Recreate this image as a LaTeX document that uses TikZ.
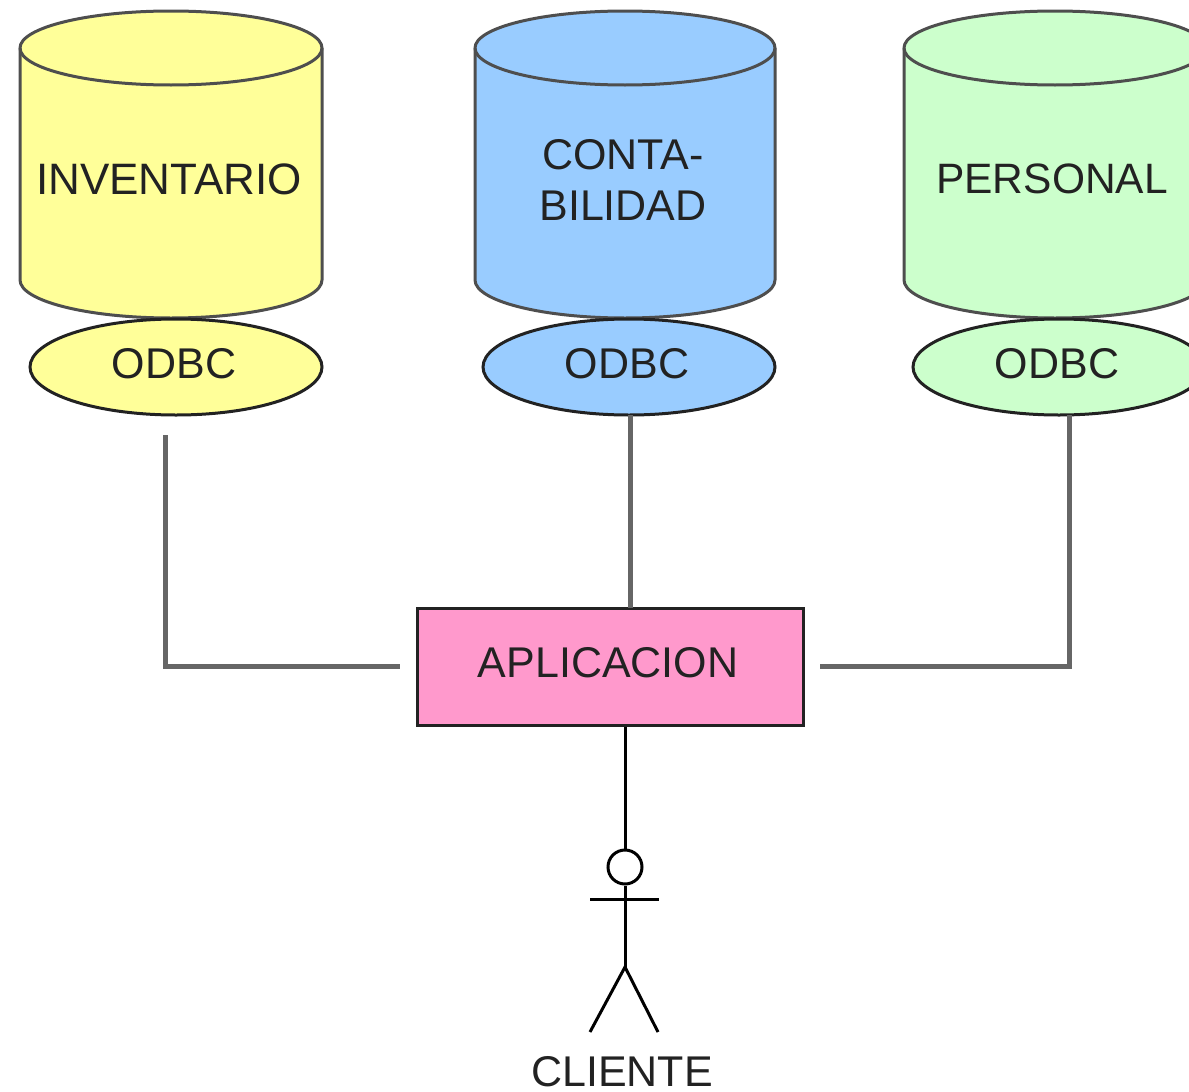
\documentclass[tikz,border=0pt]{standalone}
\usepackage{fontspec}
\setmainfont{Liberation Sans}
\usetikzlibrary{shapes.geometric}
\definecolor{yel}{HTML}{FFFF99}
\definecolor{blu}{HTML}{99CCFF}
\definecolor{grn}{HTML}{CCFFCC}
\definecolor{pnk}{HTML}{FF99CC}
\definecolor{wire}{HTML}{666666}
\definecolor{ink}{HTML}{222222}
\tikzset{
  cyl/.style={draw=ink!80!white,line width=3pt},
  lbl/.style={text=ink,font=\fontsize{43}{51}\selectfont,align=center,inner sep=0pt},
  small/.style={text=ink,font=\fontsize{43}{48}\selectfont,inner sep=0pt},
  odbc/.style={ellipse,draw=ink,line width=3pt,minimum width=292pt,minimum height=96pt,inner sep=0pt},
  wireline/.style={draw=wire,line width=5pt},
  person/.style={draw=black,line width=3pt},
}
\newcommand{\dbcyl}[3]{%
  \path[cyl,fill=#3] (#1,48) arc[x radius=#2,y radius=37,start angle=180,end angle=360]
     -- ({#1+2*#2},280) arc[x radius=#2,y radius=38,start angle=0,end angle=180] -- cycle;
  \path[cyl] (#1,48) arc[x radius=#2,y radius=37,start angle=180,end angle=0];
}
\begin{document}
\begin{tikzpicture}[x=1pt,y=-1pt]
\useasboundingbox (0,0) rectangle (1189,1092);
\clip (0,0) rectangle (1189,1092);
\dbcyl{20}{151}{yel}
\dbcyl{475}{150}{blu}
\dbcyl{904}{151}{grn}
\node[lbl,font=\fontsize{44}{51}\selectfont] (inv) at (169,179) {INVENTARIO};
\node[lbl] (con) at (623,180) {CONTA-\\BILIDAD};
\node[lbl,font=\fontsize{42.5}{51}\selectfont] (per) at (1052,179) {PERSONAL};
\node[odbc,fill=yel] (oa) at (176,367) {};
\node[odbc,fill=blu] (ob) at (629,367) {};
\node[odbc,fill=grn] (oc) at (1059,367) {};
\node[small] (ta) at (174,364) {ODBC};
\node[small] (tb) at (627,364) {ODBC};
\node[small] (tc) at (1057,364) {ODBC};
\node[rectangle,draw=ink,line width=3pt,fill=pnk,minimum width=386pt,minimum height=117pt] (app) at (610,666.5) {};
\node[small] (tapp) at (608,663) {APLICACION};
\coordinate (la) at (165,435);
\coordinate (lb) at (400,666);
\coordinate (rb) at (820,666);
\coordinate (rt) at (1069,415);
\coordinate (mt) at (630,415);
\coordinate (mb) at (630,608);
\draw[wireline,line join=miter] (la) |- (lb);
\draw[wireline] (mt) -- (mb);
\draw[wireline] (rb) -| (rt);
\node[circle,draw=black,line width=3pt,minimum size=34pt,inner sep=0pt] (head) at (625,867) {};
\coordinate (hip) at (625,967);
\coordinate (armL) at (590,899);
\coordinate (armR) at (659,899);
\coordinate (legL) at (590,1032);
\coordinate (legR) at (658,1032);
\draw[person] (app.south -| head) -- (head.north);
\draw[person] (head.south) -- (hip);
\draw[person] (armL) -- (armR);
\draw[person] (legL) -- (hip) -- (legR);
\node[small] (cli) at (622,1072) {CLIENTE};
\end{tikzpicture}
\end{document}
